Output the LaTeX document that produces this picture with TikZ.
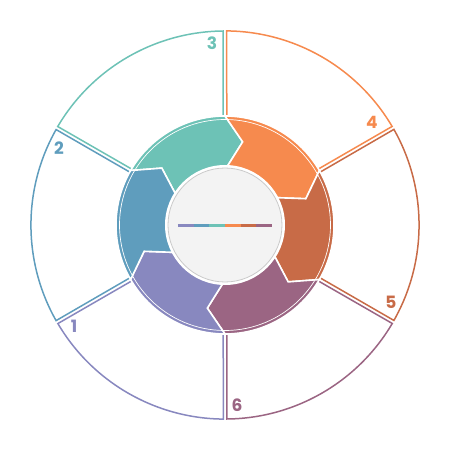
\documentclass[tikz,border=0pt]{standalone}
\usepackage{fontspec}
\setmainfont{Fira Sans}
\newfontfamily\numfont{Poppins}
\definecolor{cteal}{HTML}{6DC2B6}
\definecolor{cblue}{HTML}{5F9DBD}
\definecolor{clav}{HTML}{8888BF}
\definecolor{cmauve}{HTML}{9B6583}
\definecolor{crust}{HTML}{C86B47}
\definecolor{corange}{HTML}{F68A4E}
\definecolor{diskin}{HTML}{F3F3F3}
\definecolor{diskmid}{HTML}{ECECEC}
\definecolor{diskrim}{HTML}{DCDCDC}
\pgfdeclareradialshading{diskshade}{\pgfpoint{0bp}{0bp}}{color(0bp)=(diskin); color(36bp)=(diskin); color(45bp)=(diskmid); color(50bp)=(diskrim)}
\tikzset{
  rim/.style={line width=1.5pt},
  arrowpart/.style={draw=white, line width=1.6pt, line join=miter},
  numlabel/.style={font=\numfont\fontsize{17}{17}\selectfont\bfseries},
  barpart/.style={line width=3.3pt},
}
\begin{document}
\begin{tikzpicture}[x=1pt, y=1pt]
  \useasboundingbox (-225,-225) rectangle (225,225);
  % outer sectors
  \draw[rim, cteal] ([shift={(180:1.8)}]90:100) -- ([shift={(180:1.8)}]90:194) arc[start angle=90.5, end angle=149.5, radius=194] -- ([shift={(60:1.8)}]150:100);
  \draw[rim, cblue] ([shift={(240:1.8)}]150:100) -- ([shift={(240:1.8)}]150:194) arc[start angle=150.5, end angle=209.5, radius=194] -- ([shift={(120:1.8)}]210:100);
  \draw[rim, clav] ([shift={(300:1.8)}]210:100) -- ([shift={(300:1.8)}]210:194) arc[start angle=210.5, end angle=269.5, radius=194] -- ([shift={(180:1.8)}]270:100);
  \draw[rim, cmauve] ([shift={(0:1.8)}]270:100) -- ([shift={(0:1.8)}]270:194) arc[start angle=270.5, end angle=329.5, radius=194] -- ([shift={(240:1.8)}]330:100);
  \draw[rim, crust] ([shift={(60:1.8)}]330:100) -- ([shift={(60:1.8)}]330:194) arc[start angle=330.5, end angle=389.5, radius=194] -- ([shift={(300:1.8)}]30:100);
  \draw[rim, corange] ([shift={(120:1.8)}]30:100) -- ([shift={(120:1.8)}]30:194) arc[start angle=30.5, end angle=89.5, radius=194] -- ([shift={(0:1.8)}]90:100);

  % ring of arrows
  \filldraw[arrowpart, fill=cteal] (150:109) arc[start angle=150, end angle=90, radius=109] -- (78:85) -- (90:55) arc[start angle=90, end angle=150, radius=55] -- (138:85) -- cycle;
  \filldraw[arrowpart, fill=corange] (90:109) arc[start angle=90, end angle=30, radius=109] -- (18:85) -- (30:55) arc[start angle=30, end angle=90, radius=55] -- (78:85) -- cycle;
  \filldraw[arrowpart, fill=crust] (30:109) arc[start angle=30, end angle=-30, radius=109] -- (-42:85) -- (-30:55) arc[start angle=-30, end angle=30, radius=55] -- (18:85) -- cycle;
  \filldraw[arrowpart, fill=cmauve] (-30:109) arc[start angle=-30, end angle=-90, radius=109] -- (-102:85) -- (-90:55) arc[start angle=-90, end angle=-30, radius=55] -- (-42:85) -- cycle;
  \filldraw[arrowpart, fill=clav] (-90:109) arc[start angle=-90, end angle=-150, radius=109] -- (-162:85) -- (-150:55) arc[start angle=-150, end angle=-90, radius=55] -- (-102:85) -- cycle;
  \filldraw[arrowpart, fill=cblue] (210:109) arc[start angle=210, end angle=150, radius=109] -- (138:85) -- (150:55) arc[start angle=150, end angle=210, radius=55] -- (198:85) -- cycle;
  \draw[white, line width=0.7pt] (0,0) circle (105.5);

  % centre disk
  \fill[white] (0,0) circle (60);
  \shade[shading=diskshade] (0,0) circle (57);
  \draw[diskrim!92!black, line width=0.8pt] (0,0) circle (57);
  \draw[barpart, clav] (-47,-0.7) -- (-31.3,-0.7);
  \draw[barpart, cblue] (-31.3,-0.7) -- (-15.7,-0.7);
  \draw[barpart, cteal] (-15.7,-0.7) -- (0,-0.7);
  \draw[barpart, corange] (0,-0.7) -- (15.7,-0.7);
  \draw[barpart, crust] (15.7,-0.7) -- (31.3,-0.7);
  \draw[barpart, cmauve] (31.3,-0.7) -- (47,-0.7);

  % numbers
  \node[numlabel, text=cteal] (n3) at (-13,182) {3};
  \node[numlabel, text=cblue] (n2) at (-166,77) {2};
  \node[numlabel, text=clav] (n1) at (-151,-101) {1};
  \node[numlabel, text=cmauve] (n6) at (12,-180) {6};
  \node[numlabel, text=crust] (n5) at (166,-77) {5};
  \node[numlabel, text=corange] (n4) at (147,103) {4};
\end{tikzpicture}
\end{document}
